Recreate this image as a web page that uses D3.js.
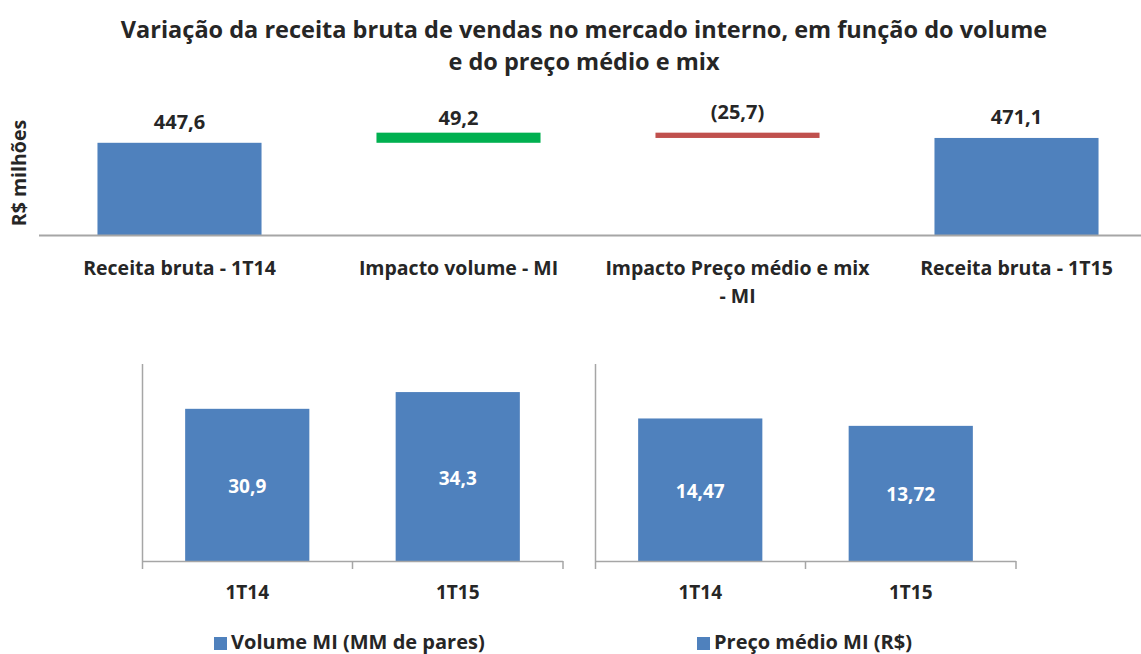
<!DOCTYPE html>
<meta charset="utf-8">
<script src="https://d3js.org/d3.v7.min.js"></script>
<style>
  body { margin: 0; background: #fff; }
  text { font-family: "Open Sans", sans-serif; font-weight: bold; fill: #262626; }
</style>
<div id="chart"></div>
<script>
// waterfall data (R$ milhões)
var steps = ["Receita bruta - 1T14", "Impacto volume - MI", "Impacto Preço médio e mix - MI", "Receita bruta - 1T15"];
var stepValues = [447.6, 49.2, -25.7, 471.1];
var stepLabels = ["447,6", "49,2", "(25,7)", "471,1"];

// bottom panels
var periods = ["1T14", "1T15"];
var volume = [30.9, 34.3];
var volumeLabels = ["30,9", "34,3"];
var preco = [14.47, 13.72];
var precoLabels = ["14,47", "13,72"];

var W = 1141, H = 654;
var blue = "#4F81BD", green = "#00B050", red = "#C0504D", axisGrey = "#A6A6A6";

var svg = d3.select("#chart").append("svg")
  .attr("width", W).attr("height", H);

// title
svg.append("text").attr("x", 584).attr("y", 38).attr("text-anchor", "middle")
  .style("font-size", "23.5px").text("Variação da receita bruta de vendas no mercado interno, em função do volume");
svg.append("text").attr("x", 584).attr("y", 70).attr("text-anchor", "middle")
  .style("font-size", "23.5px").text("e do preço médio e mix");

// ---- top waterfall ----
var x = d3.scaleBand().domain(steps).range([40, 1156]).paddingInner(0.412).paddingOuter(0.206);
var y = d3.scaleLinear().domain([0, 500]).range([235, 132]);

// build floating segments
var running = 0;
var segs = steps.map(function(s, i) {
  var v = stepValues[i], lo, hi, col;
  if (i == 0 || i == steps.length - 1) { lo = 0; hi = v; running = v; col = blue; }
  else if (v >= 0) { lo = running; hi = running + v; running = hi; col = green; }
  else { hi = running; lo = running + v; running = lo; col = red; }
  return {step: s, lo: lo, hi: hi, color: col, label: stepLabels[i]};
});

svg.append("g").selectAll("rect").data(segs).enter().append("rect")
  .attr("x", function(d) { return x(d.step); })
  .attr("width", x.bandwidth())
  .attr("y", function(d) { return y(d.hi); })
  .attr("height", function(d) { return y(d.lo) - y(d.hi); })
  .style("fill", function(d) { return d.color; });

svg.append("line").attr("x1", 39).attr("x2", W).attr("y1", 235.5).attr("y2", 235.5)
  .style("stroke", axisGrey).style("stroke-width", 2);

svg.append("g").selectAll("text").data(segs).enter().append("text")
  .attr("x", function(d) { return x(d.step) + x.bandwidth() / 2; })
  .attr("y", function(d, i) { return y(d.hi) - (d.color == green ? 8 : 14); })
  .attr("text-anchor", "middle").style("font-size", "20px")
  .text(function(d) { return d.label; });

// category labels (wrap long one)
var catG = svg.append("g");
steps.forEach(function(s) {
  var lines = s.length > 25 ? ["Impacto Preço médio e mix", "- MI"] : [s];
  lines.forEach(function(l, j) {
    catG.append("text").attr("x", x(s) + x.bandwidth() / 2).attr("y", 275 + j * 28)
      .attr("text-anchor", "middle").style("font-size", "19.5px").text(l);
  });
});

svg.append("text").attr("transform", "translate(26,173) rotate(-90)")
  .attr("text-anchor", "middle").style("font-size", "19.5px").text("R$ milhões");

// ---- bottom panels ----
function panel(x0, x1, values, labels, ymax, legend, legendX) {
  var px = d3.scaleBand().domain(periods).range([x0, x1]).paddingInner(0.41).paddingOuter(0.205);
  var py = d3.scaleLinear().domain([0, ymax]).range([561, 364]);
  var g = svg.append("g");
  g.selectAll("rect").data(values).enter().append("rect")
    .attr("x", function(d, i) { return px(periods[i]); })
    .attr("width", px.bandwidth())
    .attr("y", function(d) { return py(d); })
    .attr("height", function(d) { return py(0) - py(d); })
    .style("fill", blue);
  g.selectAll(".vl").data(values).enter().append("text")
    .attr("x", function(d, i) { return px(periods[i]) + px.bandwidth() / 2; })
    .attr("y", function(d) { return (py(d) + py(0)) / 2 + 8; })
    .attr("text-anchor", "middle").style("font-size", "19px").style("fill", "#fff")
    .text(function(d, i) { return labels[i]; });
  // axes
  g.append("line").attr("x1", x0 + 0.5).attr("x2", x0 + 0.5).attr("y1", 364).attr("y2", 569)
    .style("stroke", axisGrey).style("stroke-width", 1.5);
  g.append("line").attr("x1", x0).attr("x2", x1).attr("y1", 561.5).attr("y2", 561.5)
    .style("stroke", axisGrey).style("stroke-width", 1.5);
  [x0 + (x1 - x0) / 2, x1].forEach(function(t) {
    g.append("line").attr("x1", t).attr("x2", t).attr("y1", 561).attr("y2", 569)
      .style("stroke", axisGrey).style("stroke-width", 1.5);
  });
  g.selectAll(".cl").data(periods).enter().append("text")
    .attr("x", function(d) { return px(d) + px.bandwidth() / 2; })
    .attr("y", 599).attr("text-anchor", "middle").style("font-size", "19px")
    .text(function(d) { return d; });
  // legend
  g.append("rect").attr("x", legendX).attr("y", 637).attr("width", 13).attr("height", 13).style("fill", blue);
  g.append("text").attr("x", legendX + 17).attr("y", 649).style("font-size", "20px").text(legend);
}
panel(142, 563, volume, volumeLabels, 40, "Volume MI (MM de pares)", 214);
panel(595, 1016, preco, precoLabels, 20, "Preço médio MI (R$)", 697);
</script>
